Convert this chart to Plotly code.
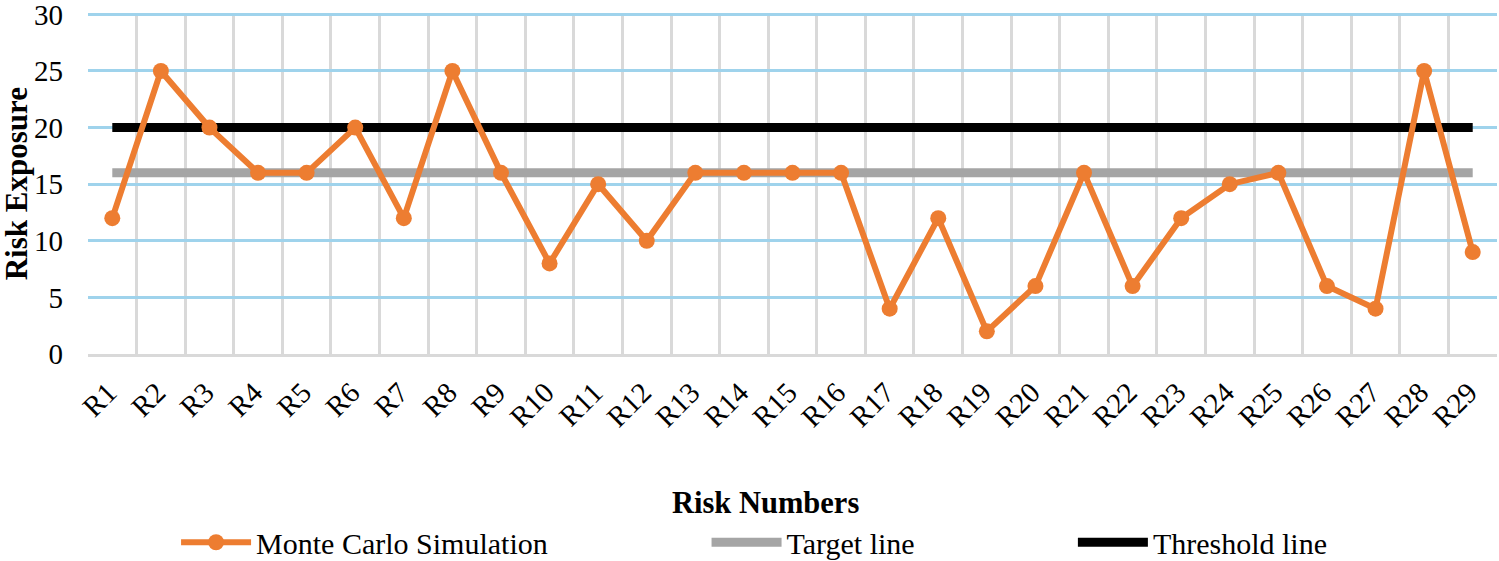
import plotly.graph_objects as go

categories = ["R%d" % i for i in range(1, 30)]
monte_carlo = [12, 25, 20, 16, 16, 20, 12, 25, 16, 8, 15, 10, 16, 16, 16, 16, 4, 12, 2, 6, 16, 6, 12, 15, 16, 6, 4, 25, 9]
target = [16] * 29
threshold = [20] * 29
y_ticks = [0, 5, 10, 15, 20, 25, 30]

FONT = "Liberation Serif, Times New Roman, serif"

fig = go.Figure()
fig.add_trace(go.Scatter(x=categories, y=target, mode="lines", name="Target line",
                         line=dict(color="#A5A5A5", width=9), legend="legend2", showlegend=True))
fig.add_trace(go.Scatter(x=categories, y=threshold, mode="lines", name="Threshold line",
                         line=dict(color="#000000", width=9), legend="legend3", showlegend=True))
fig.add_trace(go.Scatter(x=categories, y=monte_carlo, mode="lines+markers", name="Monte Carlo Simulation",
                         line=dict(color="#ED7D31", width=6),
                         marker=dict(color="#ED7D31", size=16), legend="legend", showlegend=True))

leg_common = dict(orientation="h", yanchor="middle", xanchor="left", bgcolor="rgba(0,0,0,0)",
                  font=dict(family=FONT, size=30, color="#000"), itemwidth=70)

fig.update_layout(
    width=1499, height=561,
    showlegend=True,
    margin=dict(l=88, r=2, t=13, b=207, autoexpand=False),
    paper_bgcolor="white", plot_bgcolor="white",
    font=dict(family=FONT, size=29, color="#000"),
    legend=dict(x=0.0625, y=-0.552, **leg_common),
    legend2=dict(x=0.439, y=-0.552, **leg_common),
    legend3=dict(x=0.699, y=-0.552, **leg_common),
    xaxis=dict(
        type="category", range=[-0.5, 28.5], tickson="boundaries", automargin=False,
        showgrid=True, gridcolor="#D9D9D9", gridwidth=3,
        showline=True, linecolor="#D9D9D9", linewidth=3,
        ticks="", tickangle=-45, ticklabelstandoff=7, ticklabelshift=-4,
        tickfont=dict(family=FONT, size=29, color="#000"),
    ),
    yaxis=dict(
        range=[0, 30.12], tickmode="array", tickvals=y_ticks, ticktext=[str(v) for v in y_ticks],
        automargin=False, ticklabeloverflow="allow",
        showgrid=True, gridcolor="#9FD3EC", gridwidth=3,
        zeroline=False, showline=False, ticks="", ticklabelstandoff=24,
        tickfont=dict(family=FONT, size=29, color="#000"),
    ),
    annotations=[
        dict(text="<b>Risk Numbers</b>", xref="paper", yref="paper", x=0.4805, y=-0.437,
             xanchor="center", yanchor="middle", showarrow=False,
             font=dict(family=FONT, size=30.5, color="#000")),
        dict(text="<b>Risk Exposure</b>", xref="paper", yref="paper", x=-0.0505, y=0.5,
             xanchor="center", yanchor="middle", showarrow=False, textangle=-90,
             font=dict(family=FONT, size=31, color="#000")),
    ],
)

fig.write_html("out.html", config={"displayModeBar": False},
               post_script="document.body.style.margin='0px';document.body.style.overflow='hidden';")
